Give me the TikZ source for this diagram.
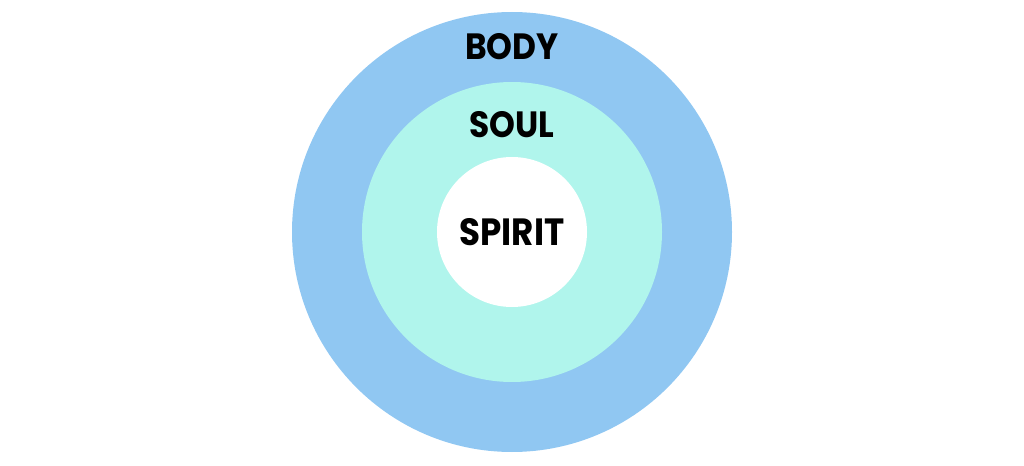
\documentclass[tikz,border=0pt]{standalone}
\usepackage{fontspec}
\newfontfamily\ringfont{Poppins}[FakeStretch=0.9]
\usetikzlibrary{positioning}

\definecolor{bodyblue}{RGB}{144,199,242}
\definecolor{soulcyan}{RGB}{176,245,236}

\begin{document}
\begin{tikzpicture}[
font=\ringfont\bfseries,
ring/.style={
circle, draw=none,
inner sep=0pt
},
ringlabel/.style={
text=black, inner sep=0pt,
font=\ringfont\bfseries\fontsize{26}{30}\selectfont
}
]

\useasboundingbox (0,0) rectangle (25.6,11.625);

\node[ring, fill=bodyblue, minimum size=11cm] (body) at (12.8,5.825) {};
\node[ring, fill=soulcyan, minimum size=7.5cm] (soul) at (body.center) {};
\node[ring, fill=white, minimum size=3.75cm] (spirit) at (body.center) {};

\node[ringlabel] (bodyText) at (12.8,10.45) {BODY};
\node[ringlabel] (soulText) at (12.8,8.5) {SOUL};
\node[ringlabel, font=\ringfont\bfseries\fontsize{27}{31}\selectfont] (spiritText) at (spirit.center) {SPIRIT};

\end{tikzpicture}
\end{document}
